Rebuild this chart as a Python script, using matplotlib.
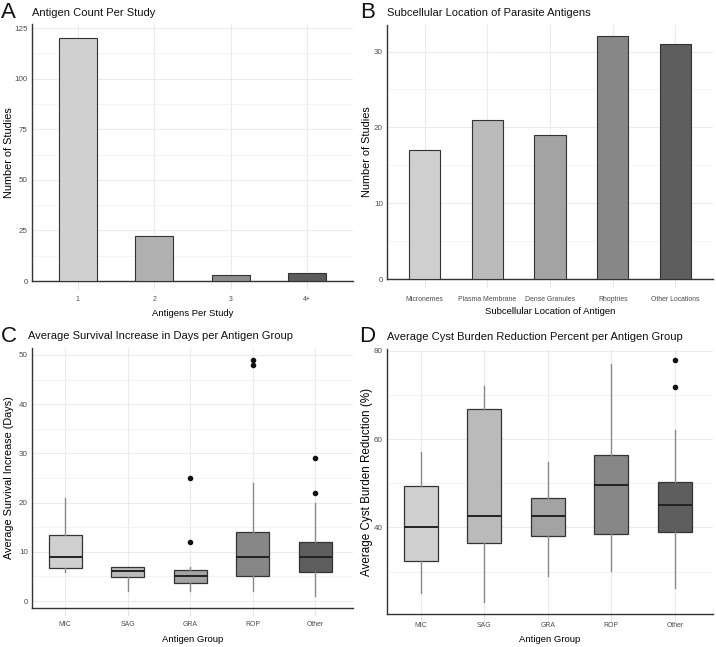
import matplotlib
matplotlib.use("Agg")
import matplotlib.pyplot as plt
from matplotlib import font_manager as fm

names = {f.name for f in fm.fontManager.ttflist}
if "Liberation Sans Narrow" in names:
    main_font, shrink = "Liberation Sans Narrow", 1.0
else:
    main_font, shrink = "Liberation Sans", 0.82
plt.rcParams['font.family'] = [main_font, 'DejaVu Sans']

# ---- data ----
a_cats = ["1", "2", "3", "4+"]
a_vals = [120, 22, 3, 4]
a_colors = ["#d0d0d0", "#b0b0b0", "#8c8c8c", "#5c5c5c"]

b_cats = ["Micronemes", "Plasma Membrane", "Dense Granules", "Rhoptries", "Other Locations"]
b_vals = [17, 21, 19, 32, 31]
b_colors = ["#cfcfcf", "#bababa", "#a3a3a3", "#878787", "#5e5e5e"]

groups = ["MIC", "SAG", "GRA", "ROP", "Other"]
box_colors = ["#cfcfcf", "#bababa", "#a3a3a3", "#878787", "#5e5e5e"]

# survival (days): whisker low, Q1, median, Q3, whisker high, outliers
c_wlo = [6, 2, 2, 2, 1]
c_q1 = [6.75, 4.9, 3.7, 5.0, 6]
c_med = [9, 6.1, 5, 9, 9]
c_q3 = [13.4, 7, 6.3, 14, 12]
c_whi = [21, 7, 7, 24, 20]
c_out = [[], [], [12, 25], [48, 49], [22, 29]]

# cyst burden reduction (%)
d_wlo = [25.1, 23.2, 29.1, 30.1, 26.2]
d_q1 = [32.5, 36.5, 38.0, 38.5, 38.9]
d_med = [40.1, 42.5, 42.5, 49.5, 45.1]
d_q3 = [49.4, 66.9, 46.6, 56.4, 50.3]
d_whi = [57.0, 72.1, 54.9, 77.1, 62.0]
d_out = [[], [], [], [], [71.9, 78.0]]

W, H = 716, 647
fig = plt.figure(figsize=(W / 100, H / 100), dpi=100)

def rect(l, r, t, b):
    return [l / W, 1 - b / H, (r - l) / W, (b - t) / H]

axA = fig.add_axes(rect(32, 353, 24, 281))
axB = fig.add_axes(rect(387, 713, 25, 279))
axC = fig.add_axes(rect(32, 353, 348, 608))
axD = fig.add_axes(rect(387, 713, 349, 614))

grid_c = "#ebebeb"
tick_c = "#4d4d4d"

def style(ax, yticks, yminor):
    for s in ["top", "right"]:
        ax.spines[s].set_visible(False)
    for s in ["left", "bottom"]:
        ax.spines[s].set_color("#333333")
        ax.spines[s].set_linewidth(1.0)
    ax.set_yticks(yticks)
    ax.set_yticks(yminor, minor=True)
    ax.grid(True, which="major", color=grid_c, lw=0.8, zorder=0)
    ax.grid(True, which="minor", axis="y", color="#f3f3f3", lw=0.6, zorder=0)
    ax.set_axisbelow(True)
    ax.tick_params(axis="both", which="both", length=0, labelcolor=tick_c)
    ax.tick_params(axis="x", which="major", length=6, color="#e6e6e6", width=0.8,
                   labelsize=6.0 * shrink)
    ax.tick_params(axis="y", labelsize=7.0 * shrink, pad=3)

def labels(ax, xlab, ylab, ysize, xlab_y, ylab_x):
    # positions given in figure pixels from the top-left corner
    ax.set_xlabel(xlab, fontsize=8.3 * shrink, va="center")
    ax.set_ylabel(ylab, fontsize=ysize, va="center")
    inv = ax.transAxes.inverted()
    pos = inv.transform((ylab_x, H - xlab_y))
    ax.xaxis.set_label_coords(0.5, pos[1])
    ax.yaxis.set_label_coords(pos[0], 0.5)

# A
xa = list(range(1, len(a_cats) + 1))
axA.bar(xa, a_vals, width=0.5, color=a_colors, edgecolor="#333333", linewidth=0.8, zorder=3)
axA.set_xticks(xa, a_cats)
axA.set_xlim(0.4, 4.6)
axA.set_ylim(0, 127)
style(axA, [0, 25, 50, 75, 100, 125], [12.5, 37.5, 62.5, 87.5, 112.5])
axA.tick_params(axis="x", pad=5)

# B
xb = list(range(1, len(b_cats) + 1))
axB.bar(xb, b_vals, width=0.5, color=b_colors, edgecolor="#333333", linewidth=0.8, zorder=3)
axB.set_xticks(xb, b_cats)
axB.set_xlim(0.4, 5.6)
axB.set_ylim(0, 33.5)
style(axB, [0, 10, 20, 30], [5, 15, 25])
axB.tick_params(axis="x", pad=6)

def boxes(ax, wlo, q1, med, q3, whi, outs):
    stats = []
    for i in range(len(groups)):
        stats.append(dict(whislo=wlo[i], q1=q1[i], med=med[i], q3=q3[i],
                          whishi=whi[i], fliers=outs[i], label=groups[i]))
    pos = list(range(1, len(groups) + 1))
    bp = ax.bxp(stats, positions=pos, widths=0.53, patch_artist=True,
                showcaps=False, zorder=3,
                boxprops=dict(edgecolor="#333333", linewidth=0.9),
                medianprops=dict(color="#222222", linewidth=1.4),
                whiskerprops=dict(color="#8a8a8a", linewidth=1.0),
                flierprops=dict(marker="o", markerfacecolor="#111111",
                                markeredgecolor="#111111", markersize=3))
    for patch, c in zip(bp["boxes"], box_colors):
        patch.set_facecolor(c)
    ax.set_xticks(pos, groups)
    ax.set_xlim(0.47, 5.6)

boxes(axC, c_wlo, c_q1, c_med, c_q3, c_whi, c_out)
axC.set_ylim(-1.4, 51.4)
style(axC, [0, 10, 20, 30, 40, 50], [5, 15, 25, 35, 45])
axC.tick_params(axis="x", pad=3)

boxes(axD, d_wlo, d_q1, d_med, d_q3, d_whi, d_out)
axD.set_ylim(20.4, 80.4)
style(axD, [40, 60, 80], [30, 50, 70])
axD.tick_params(axis="x", pad=0)

labels(axA, "Antigens Per Study", "Number of Studies", 9.6 * shrink, 313, 9)
labels(axB, "Subcellular Location of Antigen", "Number of Studies", 9.6 * shrink, 312, 367)
labels(axC, "Antigen Group", "Average Survival Increase (Days)", 9.6 * shrink, 639, 9)
labels(axD, "Antigen Group", "Average Cyst Burden Reduction (%)", 10.2 * shrink, 639, 367)

# titles and panel letters
def px(x, y):
    return x / W, 1 - y / H

for (lx, ly, tx, letter, title) in [
    (1, 13, 32, "A", "Antigen Count Per Study"),
    (360, 13, 387, "B", "Subcellular Location of Parasite Antigens"),
    (1, 336, 28, "C", "Average Survival Increase in Days per Antigen Group"),
    (359, 337, 387, "D", "Average Cyst Burden Reduction Percent per Antigen Group"),
]:
    fig.text(*px(lx, ly), letter, fontsize=16, family=["Liberation Sans", "DejaVu Sans"],
             va="center", ha="left", color="#111111")
    fig.text(*px(tx, ly), title, fontsize=9.8 * shrink, va="center", ha="left",
             color="#111111")

fig.savefig("out.png", dpi=100, facecolor="white")
